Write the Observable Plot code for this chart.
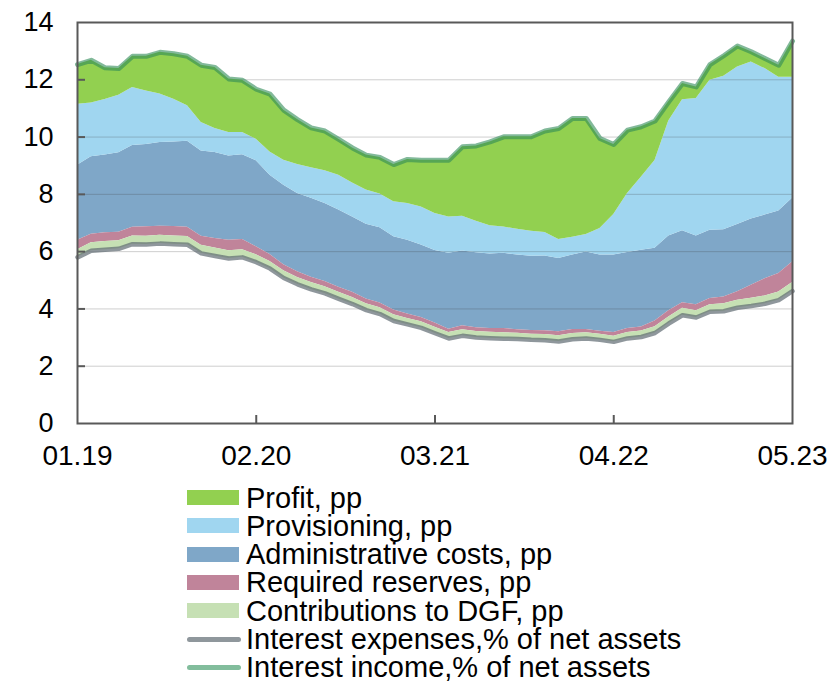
<!DOCTYPE html>
<html><head><meta charset="utf-8">
<script src="https://cdn.jsdelivr.net/npm/d3@7"></script>
<script src="https://cdn.jsdelivr.net/npm/@observablehq/plot@0.6"></script>
<style>
body{margin:0;background:#fff;font-family:'Liberation Sans',Arial,sans-serif;}
#wrap{position:relative;width:832px;height:682px;overflow:hidden;}
.row{position:absolute;left:187px;height:28px;display:flex;align-items:center;font-size:29px;line-height:28px;white-space:nowrap;color:#000;}
.row span{display:block;height:28px;line-height:28px;overflow:visible;}
.sw{width:52px;height:15px;margin-right:7px;flex:none;}
.ln{width:54px;height:15px;margin-right:5px;flex:none;}
</style></head><body><div id="wrap"></div>
<script>
// Months Jan 2019 .. May 2023 (index 0..52)
const xTickIdx = [0, 13, 26, 39, 52];
const xLabels = ["01.19", "02.20", "03.21", "04.22", "05.23"];
const yTicks = [0, 2, 4, 6, 8, 10, 12, 14];

const expenses = [5.80,6.03,6.07,6.10,6.26,6.25,6.28,6.26,6.24,5.94,
  5.85,5.76,5.80,5.63,5.41,5.08,4.86,4.68,4.54,4.35,
  4.17,3.96,3.82,3.58,3.46,3.34,3.15,2.97,3.06,3.00,
  2.98,2.96,2.95,2.92,2.91,2.86,2.94,2.97,2.92,2.85,
  2.97,3.02,3.16,3.49,3.78,3.70,3.90,3.92,4.04,4.10,
  4.18,4.31,4.62];
const dgf = [0.27,0.28,0.28,0.28,0.29,0.29,0.29,0.29,0.29,0.28,
  0.28,0.27,0.27,0.26,0.25,0.25,0.24,0.24,0.23,0.23,
  0.23,0.22,0.22,0.22,0.21,0.21,0.21,0.21,0.21,0.21,
  0.21,0.21,0.20,0.20,0.20,0.20,0.20,0.20,0.20,0.20,
  0.21,0.21,0.22,0.23,0.24,0.24,0.25,0.26,0.26,0.27,
  0.27,0.28,0.30];
const reserves = [0.33,0.30,0.31,0.30,0.30,0.33,0.32,0.33,0.32,0.32,
  0.33,0.37,0.35,0.28,0.24,0.21,0.20,0.19,0.19,0.18,
  0.18,0.17,0.17,0.16,0.15,0.15,0.15,0.11,0.14,0.13,
  0.13,0.15,0.12,0.13,0.13,0.14,0.14,0.11,0.10,0.13,
  0.14,0.14,0.20,0.22,0.20,0.21,0.21,0.24,0.30,0.46,
  0.60,0.65,0.72];
const admin = [2.62,2.70,2.71,2.77,2.86,2.87,2.92,2.95,3.00,2.97,
  3.00,2.94,2.96,3.00,2.77,2.78,2.73,2.75,2.72,2.69,
  2.63,2.61,2.62,2.56,2.58,2.53,2.53,2.65,2.61,2.62,
  2.60,2.62,2.61,2.59,2.61,2.56,2.60,2.71,2.66,2.70,
  2.65,2.68,2.54,2.61,2.51,2.40,2.39,2.34,2.35,2.31,
  2.23,2.18,2.22];
const provisioning = [2.13,1.88,1.94,2.01,2.02,1.87,1.69,1.49,1.24,1.00,
  0.84,0.82,0.78,0.75,0.81,0.87,1.01,1.07,1.14,1.22,
  1.19,1.19,1.18,1.22,1.28,1.33,1.29,1.27,1.22,1.10,
  0.98,0.92,0.90,0.87,0.82,0.66,0.62,0.61,0.93,1.42,
  2.06,2.55,3.06,4.01,4.57,4.80,5.23,5.36,5.50,5.48,
  5.11,4.67,4.23];
const profit = [1.38,1.49,1.11,0.93,1.09,1.21,1.46,1.59,1.73,2.00,
  2.13,1.87,1.82,1.75,2.02,1.75,1.57,1.39,1.39,1.25,
  1.22,1.22,1.28,1.30,1.54,1.63,1.86,1.98,2.42,2.63,
  2.93,3.15,3.23,3.30,3.54,3.88,4.15,4.05,3.14,2.44,
  2.21,1.76,1.38,0.67,0.57,0.40,0.55,0.72,0.73,0.36,
  0.35,0.42,1.26];
const income = [12.53,12.68,12.42,12.39,12.82,12.82,12.96,12.91,12.82,12.51,
  12.43,12.03,11.98,11.67,11.50,10.94,10.61,10.32,10.21,9.92,
  9.62,9.37,9.29,9.04,9.22,9.19,9.19,9.19,9.66,9.69,
  9.83,10.01,10.01,10.01,10.21,10.30,10.65,10.65,9.95,9.74,
  10.24,10.36,10.56,11.23,11.87,11.75,12.53,12.84,13.18,12.98,
  12.74,12.51,13.35];

const seriesNames = ["Contributions to DGF, pp", "Required reserves, pp", "Administrative costs, pp", "Provisioning, pp", "Profit, pp"];
const seriesValues = [dgf, reserves, admin, provisioning, profit];
const seriesColors = ["#c6e0b4", "#c0849a", "#7fa7c8", "#a0d6f0", "#92d050"];
const lineNames = ["Interest expenses,% of net assets", "Interest income,% of net assets"];
const lineLegendColors = ["#8f979c", "#82bd9c"];

// Build stacked table on top of the interest-expenses line
const n = expenses.length;
const rows = [];
for (let i = 0; i < n; i++) {
  let base = expenses[i];
  seriesNames.forEach((s, k) => {
    const v = seriesValues[k][i];
    rows.push({i, s, y1: base, y2: base + v});
    base += v;
  });
}
const idx = d3.range(n);
const area = (name) => Plot.areaY(rows.filter(r => r.s === name), {
  x: "i", y1: "y1", y2: "y2", fill: seriesColors[seriesNames.indexOf(name)], curve: "linear"
});

const W = 832, H = 482, mL = 77, mR = 40, mT = 22, mB = 59;
const chart = Plot.plot({
  width: W, height: H,
  marginLeft: mL, marginRight: mR, marginTop: mT, marginBottom: mB,
  style: {fontFamily: "'Liberation Sans', Arial, sans-serif", fontSize: "27px", color: "#000", background: "#fff", overflow: "visible"},
  x: {type: "linear", domain: [0, n - 1]},
  y: {domain: [0, 14]},
  marks: [
    area("Administrative costs, pp"),
    area("Provisioning, pp"),
    Plot.ruleY(yTicks.filter(v => v > 0 && v < 14), {stroke: "#404040", strokeOpacity: 0.25, strokeWidth: 1}),
    area("Profit, pp"),
    area("Required reserves, pp"),
    area("Contributions to DGF, pp"),
    Plot.line(idx, {x: i => i, y: i => expenses[i], stroke: "#5f6b72", strokeOpacity: 0.7, strokeWidth: 4.5, strokeLinejoin: "round"}),
    Plot.line(idx, {x: i => i, y: i => income[i], stroke: "#2e8b57", strokeOpacity: 0.6, strokeWidth: 5, strokeLinejoin: "round"}),
    Plot.frame({stroke: "#595959", strokeWidth: 2}),
    Plot.tickY(yTicks.filter(v => v > 0 && v < 14), {y: d => d, stroke: "#595959", strokeWidth: 2, insetRight: W - mL - mR - 8}),
    Plot.tickX(xTickIdx.slice(1, -1), {x: d => d, stroke: "#595959", strokeWidth: 2, insetTop: H - mT - mB - 8}),
    Plot.axisY(yTicks, {tickSize: 0, tickPadding: 24, fontSize: 27, label: null, tickFormat: d => String(d)}),
    Plot.axisX(xTickIdx, {tickSize: 0, tickPadding: 22, fontSize: 28, label: null, tickFormat: d => xLabels[xTickIdx.indexOf(d)]})
  ]
});
const wrap = document.getElementById("wrap");
wrap.appendChild(chart);

// Legend
const legendItems = [
  {name: "Profit, pp", color: seriesColors[4], type: "box"},
  {name: "Provisioning, pp", color: seriesColors[3], type: "box"},
  {name: "Administrative costs, pp", color: seriesColors[2], type: "box"},
  {name: "Required reserves, pp", color: seriesColors[1], type: "box"},
  {name: "Contributions to DGF, pp", color: seriesColors[0], type: "box"},
  {name: lineNames[0], color: lineLegendColors[0], type: "line"},
  {name: lineNames[1], color: lineLegendColors[1], type: "line"}
];
legendItems.forEach((it, k) => {
  const row = document.createElement("div");
  row.className = "row";
  row.style.top = (483.5 + k * 28.3) + "px";
  if (it.type === "box") {
    const sw = document.createElement("div");
    sw.className = "sw";
    sw.style.background = it.color;
    row.appendChild(sw);
  } else {
    const ns = "http://www.w3.org/2000/svg";
    const svg = document.createElementNS(ns, "svg");
    svg.setAttribute("class", "ln");
    svg.setAttribute("width", "54"); svg.setAttribute("height", "15");
    const l = document.createElementNS(ns, "line");
    l.setAttribute("x1", "2.5"); l.setAttribute("x2", "51.5");
    l.setAttribute("y1", "7.5"); l.setAttribute("y2", "7.5");
    l.setAttribute("stroke", it.color); l.setAttribute("stroke-width", "5");
    l.setAttribute("stroke-linecap", "round");
    svg.appendChild(l);
    row.appendChild(svg);
  }
  const t = document.createElement("span");
  t.textContent = it.name;
  row.appendChild(t);
  wrap.appendChild(row);
});
</script></body></html>
